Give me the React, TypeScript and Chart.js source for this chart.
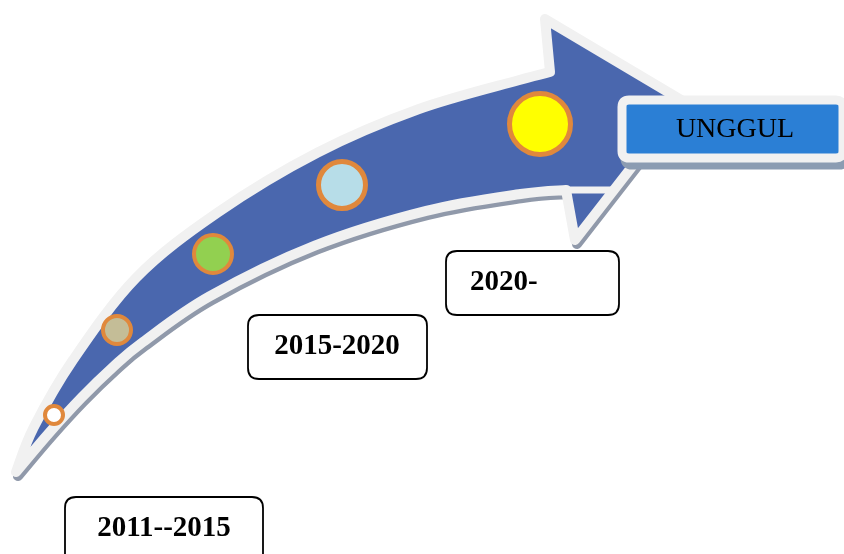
import { useEffect, useRef } from "react";
import { Chart, registerables } from "chart.js";

Chart.register(...registerables);

// ---- Data (diagram frame: x 0..844, y 0..554 downward) ----
const milestoneX = [54, 117, 213, 342, 540];
const milestoneY = [415, 330, 254, 185, 124];
const milestoneSize = [9, 14, 19, 23.5, 30.5];
const milestoneFill = ["#FFFFFF", "#C4BD97", "#92D050", "#B7DDE8", "#FFFF00"];
const milestoneRing = [4, 4, 4, 5, 5];

const periodLabels = ["2011--2015", "2015-2020", "2020-"];
const periodBoxX = [65, 248, 446];
const periodBoxY = [497, 315, 251];
const periodBoxW = [198, 179, 173];
const periodBoxH = [75, 64, 64];
const periodTextX = [164, 337, 470];
const periodTextY = [529, 347, 283];
const periodAlign: CanvasTextAlign[] = ["center", "center", "left"];

const goalLabel = "UNGGUL";
const goalBox = [622, 100, 221, 58];
const goalText = [735, 130];

// arrow outline: tail tip, upper body edge, head corners, lower body edge
const arrowTail = [16, 472];
const arrowUpperEdge = [
  [38, 430], [77, 363], [140, 281], [220, 217], [320, 157], [420, 114], [520, 85],
];
const arrowHead = [[550, 72], [545, 19], [683, 101], [575, 240], [566, 190]];
const arrowLowerEdge = [
  [520, 189], [425, 206], [313, 241], [207, 292], [140, 338], [110, 363], [78, 394], [45, 430],
];
const arrowNotch = [[566, 190], [612, 190]];

type Pt = { x: number; y: number };

function catmull(ctx: CanvasRenderingContext2D, p: Pt[]) {
  for (let i = 0; i < p.length - 1; i++) {
    const p0 = p[i - 1] || p[i];
    const p1 = p[i];
    const p2 = p[i + 1];
    const p3 = p[i + 2] || p2;
    ctx.bezierCurveTo(
      p1.x + (p2.x - p0.x) / 6, p1.y + (p2.y - p0.y) / 6,
      p2.x - (p3.x - p1.x) / 6, p2.y - (p3.y - p1.y) / 6,
      p2.x, p2.y
    );
  }
}

// push the inner points of a run outward (left of travel) by the border half-width
function outward(p: Pt[], d: number): Pt[] {
  return p.map((pt, i) => {
    if (i === 0 || i === p.length - 1) return pt;
    const a = p[i - 1];
    const b = p[i + 1];
    const dx = b.x - a.x;
    const dy = b.y - a.y;
    const len = Math.hypot(dx, dy) || 1;
    return { x: pt.x + (dy / len) * d, y: pt.y - (dx / len) * d };
  });
}

function roundRect(ctx: CanvasRenderingContext2D, x: number, y: number, w: number, h: number, r: number) {
  ctx.beginPath();
  ctx.moveTo(x + r, y);
  ctx.lineTo(x + w - r, y);
  ctx.quadraticCurveTo(x + w, y, x + w, y + r);
  ctx.lineTo(x + w, y + h - r);
  ctx.quadraticCurveTo(x + w, y + h, x + w - r, y + h);
  ctx.lineTo(x + r, y + h);
  ctx.quadraticCurveTo(x, y + h, x, y + h - r);
  ctx.lineTo(x, y + r);
  ctx.quadraticCurveTo(x, y, x + r, y);
  ctx.closePath();
}

const diagramPlugin = {
  id: "diagram",
  beforeDatasetsDraw(chart: any) {
    const ctx: CanvasRenderingContext2D = chart.ctx;
    const sx = chart.scales.x;
    const sy = chart.scales.y;
    const map = (a: number[][]) => a.map(([x, y]) => ({ x: sx.getPixelForValue(x), y: sy.getPixelForValue(y) }));
    const tail = map([arrowTail])[0];
    const head = map(arrowHead);
    const up = outward([tail, ...map(arrowUpperEdge), head[0]], 5);
    const low = outward([head[head.length - 1], ...map(arrowLowerEdge), tail], 5);
    const path = () => {
      ctx.beginPath();
      ctx.moveTo(up[0].x, up[0].y);
      catmull(ctx, up);
      head.slice(1).forEach((p) => ctx.lineTo(p.x, p.y));
      catmull(ctx, low);
      ctx.closePath();
    };
    ctx.save();
    ctx.lineJoin = "round";
    // shadow
    ctx.save();
    ctx.translate(2, 4);
    path();
    ctx.fillStyle = "#9099AA";
    ctx.fill();
    ctx.lineWidth = 10;
    ctx.strokeStyle = "#9099AA";
    ctx.stroke();
    ctx.restore();
    // body
    path();
    ctx.fillStyle = "#4A67AE";
    ctx.fill();
    ctx.lineWidth = 10;
    ctx.strokeStyle = "#F1F1F1";
    ctx.stroke();
    const n = map(arrowNotch);
    ctx.beginPath();
    ctx.moveTo(n[0].x, n[0].y);
    ctx.lineTo(n[1].x, n[1].y);
    ctx.lineWidth = 7;
    ctx.stroke();
    ctx.restore();
  },
  afterDatasetsDraw(chart: any) {
    const ctx: CanvasRenderingContext2D = chart.ctx;
    const sx = chart.scales.x;
    const sy = chart.scales.y;
    const X = (v: number) => sx.getPixelForValue(v);
    const Y = (v: number) => sy.getPixelForValue(v);
    ctx.save();
    // goal box
    const gx = X(goalBox[0]);
    const gy = Y(goalBox[1]);
    const gw = X(goalBox[0] + goalBox[2]) - gx;
    const gh = Y(goalBox[1] + goalBox[3]) - gy;
    roundRect(ctx, gx + 3, gy + 7, gw, gh, 7);
    ctx.fillStyle = "#8B9CB2";
    ctx.lineWidth = 9;
    ctx.strokeStyle = "#8B9CB2";
    ctx.fill();
    ctx.stroke();
    roundRect(ctx, gx, gy, gw, gh, 7);
    ctx.fillStyle = "#2B7FD5";
    ctx.fill();
    ctx.strokeStyle = "#F1F1F1";
    ctx.stroke();
    ctx.fillStyle = "#000000";
    ctx.font = '28px "Liberation Serif", "Times New Roman", serif';
    ctx.textAlign = "center";
    ctx.textBaseline = "middle";
    ctx.fillText(goalLabel, X(goalText[0]), Y(goalText[1]));
    // period boxes
    periodLabels.forEach((label, i) => {
      const bx = X(periodBoxX[i]);
      const by = Y(periodBoxY[i]);
      const bw = X(periodBoxX[i] + periodBoxW[i]) - bx;
      const bh = Y(periodBoxY[i] + periodBoxH[i]) - by;
      roundRect(ctx, bx, by, bw, bh, 11);
      ctx.fillStyle = "#FFFFFF";
      ctx.fill();
      ctx.lineWidth = 1.8;
      ctx.strokeStyle = "#000000";
      ctx.stroke();
      ctx.fillStyle = "#000000";
      ctx.font = 'bold 29px "Liberation Serif", "Times New Roman", serif';
      ctx.textAlign = periodAlign[i];
      ctx.textBaseline = "middle";
      ctx.fillText(label, X(periodTextX[i]), Y(periodTextY[i]));
    });
    ctx.restore();
  },
};

export default function App() {
  const ref = useRef<HTMLCanvasElement | null>(null);
  useEffect(() => {
    if (!ref.current) return;
    const chart = new Chart(ref.current, {
      type: "scatter",
      data: {
        datasets: [
          {
            data: milestoneX.map((x, i) => ({ x, y: milestoneY[i] })),
            pointRadius: milestoneSize,
            pointHoverRadius: milestoneSize,
            pointBackgroundColor: milestoneFill,
            pointBorderColor: "#E0883C",
            pointBorderWidth: milestoneRing,
            pointHoverBorderWidth: milestoneRing,
            showLine: false,
            clip: false,
          } as any,
        ],
      },
      options: {
        animation: false,
        responsive: false,
        events: [],
        layout: { padding: 0, autoPadding: false },
        scales: {
          x: { type: "linear", min: 0, max: 844, display: false },
          y: { type: "linear", min: 0, max: 554, reverse: true, display: false },
        },
        plugins: { legend: { display: false }, tooltip: { enabled: false } },
      },
      plugins: [diagramPlugin],
    });
    return () => chart.destroy();
  }, []);
  return (
    <div style={{ position: "absolute", left: 0, top: 0, width: 844, height: 554, background: "#FFFFFF" }}>
      <canvas ref={ref} width={844} height={554} style={{ display: "block" }} />
    </div>
  );
}
